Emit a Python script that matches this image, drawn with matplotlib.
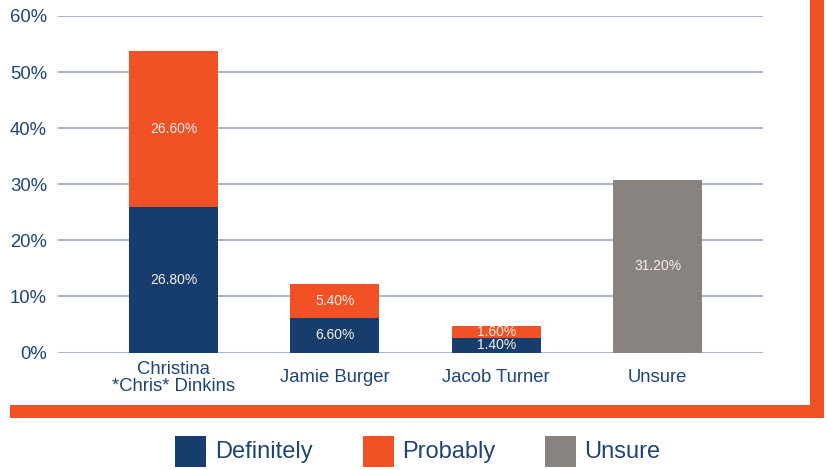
import matplotlib
matplotlib.use("Agg")
import matplotlib.pyplot as plt
from matplotlib.patches import Rectangle

plt.rcParams['font.family'] = ['Liberation Sans', 'DejaVu Sans']

categories = ["Christina\n*Chris* Dinkins", "Jamie Burger", "Jacob Turner", "Unsure"]
# bar heights as drawn in the picture (percent)
definitely = [25.9, 6.15, 2.6, 0.0]
probably = [27.8, 6.05, 2.1, 0.0]
unsure = [0.0, 0.0, 0.0, 30.7]
# printed data labels
definitely_labels = ["26.80%", "6.60%", "1.40%", ""]
probably_labels = ["26.60%", "5.40%", "1.60%", ""]
unsure_labels = ["", "", "", "31.20%"]
yticks = [0, 10, 20, 30, 40, 50, 60]
ytick_labels = ["0%", "10%", "20%", "30%", "40%", "50%", "60%"]
legend_labels = ["Definitely", "Probably", "Unsure"]

NAVY = "#173D6D"
ORANGE = "#F15124"
GRAY = "#88837E"
GRID = "#A9B7CC"
TEXT = "#1F4576"
LABEL = "#F7EEE9"

fig = plt.figure(figsize=(8.27, 4.70), dpi=100)
ax = fig.add_axes([58/827, 1-352.5/470, (762.7-58)/827, (352.5-16)/470])

x = list(range(len(categories)))
w = 0.552
b1 = ax.bar(x, definitely, width=w, color=NAVY, zorder=3)
b2 = ax.bar(x, probably, width=w, bottom=definitely, color=ORANGE, zorder=3)
b3 = ax.bar(x, unsure, width=w, color=GRAY, zorder=3)

for bars, labels in ((b1, definitely_labels), (b2, probably_labels), (b3, unsure_labels)):
    ax.bar_label(bars, labels=labels, label_type='center', color=LABEL, fontsize=10, zorder=4)

ax.set_xlim(-0.716, 3.652)
ax.set_ylim(0, 60)
ax.set_yticks(yticks)
ax.set_yticklabels(ytick_labels)
ax.set_xticks(x)
ax.set_xticklabels(categories)
ax.tick_params(axis='y', length=0, labelsize=13.3, labelcolor=TEXT, pad=8)
ax.tick_params(axis='x', length=0, labelsize=13.3, labelcolor=TEXT, pad=18.2)
for lab in ax.get_xticklabels():
    lab.set_linespacing(1.0)
    lab.set_verticalalignment('center')
ax.grid(axis='y', color=GRID, linewidth=1.5, zorder=0)
for s in ax.spines.values():
    s.set_visible(False)

# orange L-shaped frame
fig.add_artist(Rectangle((810/827, 1-418/470), 14/827, 418/470, transform=fig.transFigure,
                         color=ORANGE, lw=0))
fig.add_artist(Rectangle((10/827, 1-418/470), 814/827, 13/470, transform=fig.transFigure,
                         color=ORANGE, lw=0))

# legend
sq_x = [175, 363, 545]
txt_x = [215, 402, 584]
for sx, tx, col, lab in zip(sq_x, txt_x, [NAVY, ORANGE, GRAY], legend_labels):
    fig.add_artist(Rectangle((sx/827, 1-467/470), 31/827, 31/470, transform=fig.transFigure,
                             color=col, lw=0))
    fig.text(tx/827, 1-452/470, lab, fontsize=17, color=TEXT, va='center', ha='left')

fig.savefig("out.png", dpi=100)
